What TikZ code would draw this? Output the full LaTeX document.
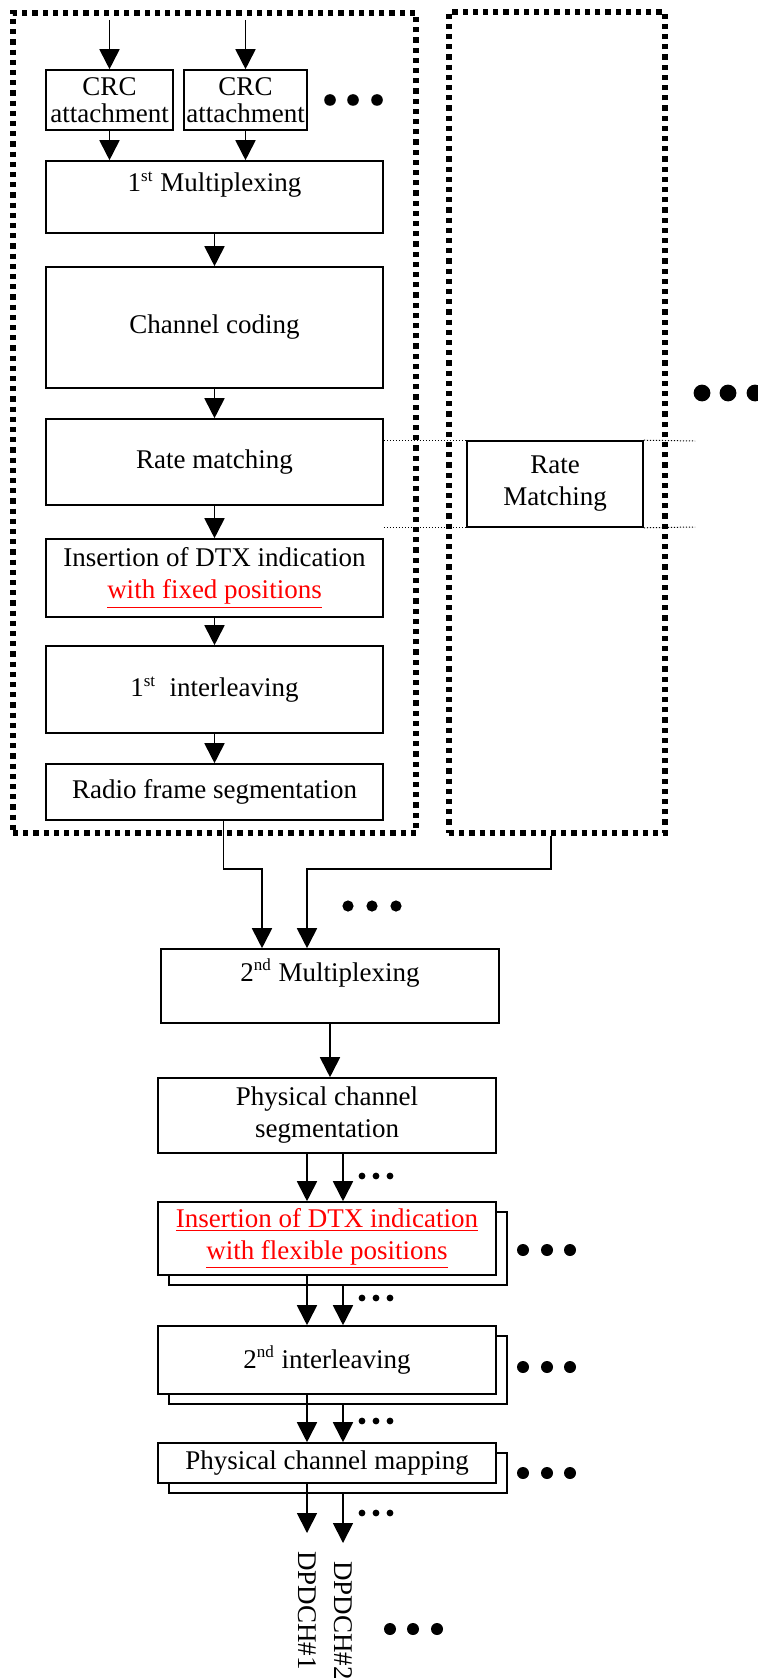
\documentclass[tikz,border=0pt]{standalone}
\usepackage{fontspec}
\setmainfont{Liberation Serif}
\usetikzlibrary{arrows.meta,shadows}
\newcommand{\ordsup}[1]{\textsuperscript{\fontsize{8.5}{8.5}\selectfont #1}}

\begin{document}
\begin{tikzpicture}[x=0.5pt,y=-0.5pt,
font=\fontsize{13.5}{16}\selectfont,
block/.style ={rectangle, draw, line width=0.8pt, fill=white,
  inner sep=1pt, align=center
},
stack/.style ={block,
  copy shadow={shadow xshift=5.5pt, shadow yshift=-5pt}
},
tchbox/.style ={rectangle, draw, line width=2.6pt,
  dash pattern=on 2.6pt off 2.5pt, inner sep=0pt
},
toptext/.style ={text height=9pt, text depth=14pt},
arr/.style ={-{Triangle[width=10pt,length=10pt]}, line width=0.9pt},
guide/.style ={line width=0.5pt, dash pattern=on 0.6pt off 0.9pt}]
\useasboundingbox (0,0) rectangle (757,1680);

% transport channel groups
\node (grp1) at (214.5,423) [tchbox, minimum width=201.5pt, minimum height=410pt] {};
\node (grp2) at (557,422.5) [tchbox, minimum width=108pt, minimum height=410.5pt] {};

\coordinate (in1) at (109.5,20);
\coordinate (in2) at (245.5,20);
\node (crc1) at (109.5,100) [block, minimum width=63.5pt, minimum height=30pt,
  font=\fontsize{13.5}{13.5}\selectfont] {CRC\\attachment};
\node (crc2) at (245.5,100) [block, minimum width=61.5pt, minimum height=30pt,
  font=\fontsize{13.5}{13.5}\selectfont] {CRC\\attachment};
\node (mux1) at (214.5,197) [block, toptext, minimum width=168.5pt, minimum height=36pt] {1\ordsup{st} Multiplexing};
\node (code) at (214.5,327.5) [block, minimum width=168.5pt, minimum height=60.5pt] {Channel coding};
\node (rm) at (214.5,462) [block, minimum width=168.5pt, minimum height=43pt] {Rate matching};
\node (dtx1) at (214.5,578) [block, minimum width=168.5pt, minimum height=39pt] {Insertion of DTX indication\\\textcolor{red}{\underline{with fixed positions}}};
\node (il1) at (214.5,689.5) [block, minimum width=168.5pt, minimum height=43.5pt] {1\ordsup{st}~ interleaving};
\node (seg) at (214.5,792) [block, minimum width=168.5pt, minimum height=28pt] {Radio frame segmentation};

\node (rm2) at (555,484) [block, minimum width=88pt, minimum height=43pt] {Rate\\Matching};
\coordinate (g1) at (695,441);
\coordinate (g2) at (695,527);
\draw[guide] (rm.east |- rm2.north) -- (rm2.north west);
\draw[guide] (rm2.north east) -- (g1);
\draw[guide] (rm.east |- rm2.south) -- (rm2.south west);
\draw[guide] (rm2.south east) -- (g2);

\draw[arr] (in1) -- (in1 |- crc1.north);
\draw[arr] (in2) -- (in2 |- crc2.north);
\draw[arr] (crc1) -- (crc1 |- mux1.north);
\draw[arr] (crc2) -- (crc2 |- mux1.north);
\draw[arr] (mux1.south) -- (code.north);
\draw[arr] (code.south) -- (rm.north);
\draw[arr] (rm.south) -- (dtx1.north);
\draw[arr] (dtx1.south) -- (il1.north);
\draw[arr] (il1.south) -- (seg.north);

\node (mux2) at (330,986) [block, toptext, minimum width=169pt, minimum height=37pt] {2\ordsup{nd} Multiplexing};
\node (phseg) at (327,1115.5) [block, minimum width=169pt, minimum height=37.5pt] {Physical channel\\segmentation};
\node (dtx2) at (327,1238.5) [stack, minimum width=169pt, minimum height=36.5pt,
  text=red] {\underline{Insertion of DTX indication}\\\underline{with flexible positions}};
\node (il2) at (327,1360) [stack, minimum width=169pt, minimum height=34pt] {2\ordsup{nd} interleaving};
\node (map) at (327,1463) [stack, minimum width=169pt, minimum height=20pt] {Physical channel mapping};
\node (dp1) at (307,1533) [rotate=-90, anchor=west, inner xsep=9pt, inner ysep=0pt] {DPDCH\#1};
\node (dp2) at (343,1543) [rotate=-90, anchor=west, inner xsep=9pt, inner ysep=0pt] {DPDCH\#2};

\coordinate (j1) at (262,869);
\coordinate (j2) at (307,869);
\draw[arr] ([xshift=4.5pt]seg.south) |- (j1) -- (j1 |- mux2.north);
\draw[arr] ([xshift=-3pt]grp2.south) |- (j2) -- (j2 |- mux2.north);
\draw[arr] (mux2.south) -- (mux2.south |- phseg.north);
\draw[arr] ([xshift=-10pt]phseg.south) -- ([xshift=-10pt]dtx2.north);
\draw[arr] ([xshift=8pt]phseg.south) -- ([xshift=8pt]dtx2.north);
\draw[arr] ([xshift=-10pt]dtx2.south) -- ([xshift=-10pt]il2.north);
\draw[arr] ([xshift=8pt,yshift=-5pt]dtx2.south) -- ([xshift=8pt]il2.north);
\draw[arr] ([xshift=-10pt]il2.south) -- ([xshift=-10pt]map.north);
\draw[arr] ([xshift=8pt,yshift=-5pt]il2.south) -- ([xshift=8pt]map.north);
\draw[arr] ([xshift=-10pt]map.south) -- (dp1.west);
\draw[arr] ([xshift=8pt,yshift=-5pt]map.south) -- (dp2.west);

% dots
\fill (330,100) circle (2.9pt) (353,100) circle (2.9pt) (377,100) circle (2.9pt);
\fill (702,393) circle (4.2pt) (728,393) circle (4.2pt) (755,393) circle (4.2pt);
\fill (348,906) circle (2.8pt) (372,906) circle (2.8pt) (396,906) circle (2.8pt);
\fill (362,1176) circle (1.7pt) (376,1176) circle (1.7pt) (390,1176) circle (1.7pt);
\fill (523,1250) circle (3pt) (547,1250) circle (3pt) (570,1250) circle (3pt);
\fill (362,1298) circle (1.7pt) (376,1298) circle (1.7pt) (390,1298) circle (1.7pt);
\fill (523,1367) circle (3pt) (547,1367) circle (3pt) (570,1367) circle (3pt);
\fill (362,1421) circle (1.7pt) (376,1421) circle (1.7pt) (390,1421) circle (1.7pt);
\fill (523,1473) circle (3pt) (547,1473) circle (3pt) (570,1473) circle (3pt);
\fill (362,1513) circle (1.7pt) (376,1513) circle (1.7pt) (390,1513) circle (1.7pt);
\fill (390,1629) circle (3pt) (413,1629) circle (3pt) (437,1629) circle (3pt);
\end{tikzpicture}
\end{document}
